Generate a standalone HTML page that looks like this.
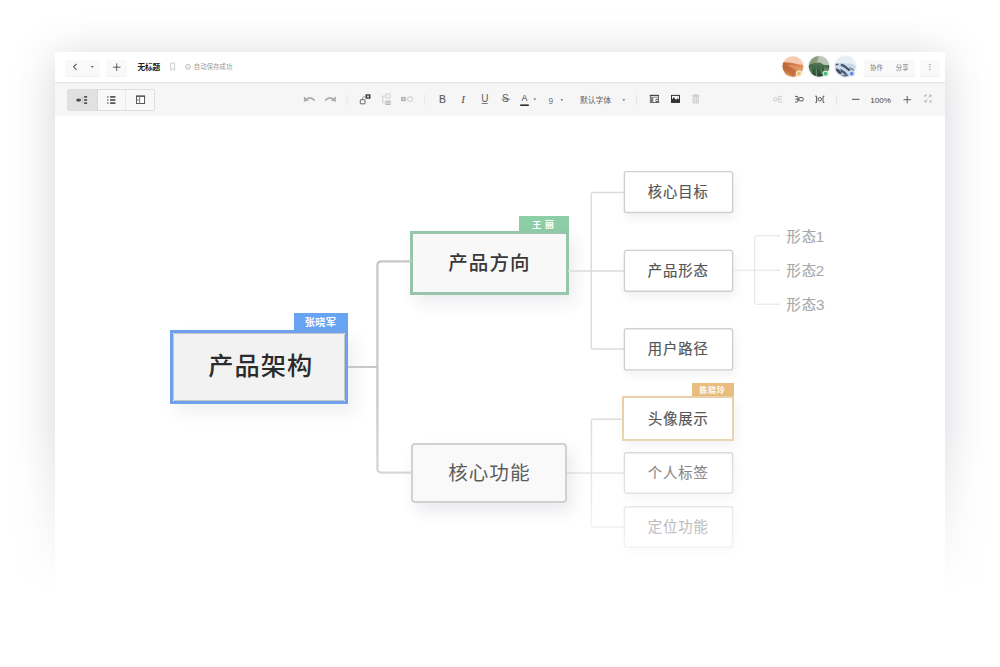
<!DOCTYPE html>
<html lang="zh"><head><meta charset="utf-8"><title>Mind map</title>
<style>
html,body{margin:0;padding:0;width:1000px;height:667px;overflow:hidden;}
body{width:1000px;height:667px;overflow:hidden;background:#fff;position:relative;font-family:"Liberation Sans",sans-serif;}
#win{position:absolute;left:55px;top:52px;width:890px;height:590px;background:#fff;box-shadow:0 5px 40px rgba(60,65,85,0.22);}
#titlebar{position:absolute;left:0;top:0;width:890px;height:30px;background:#fff;}
#toolbar{position:absolute;left:0;top:30px;width:890px;height:34px;background:linear-gradient(to bottom,#e8e8e8 0,#e8e8e8 1px,#efefef 1px,#efefef 2px,#f6f6f6 2px,#f6f6f6 34px);}
.boxes div{position:absolute;}
svg.ink{position:absolute;left:0;top:0;}
svg.ink text{font-family:"Liberation Sans","Noto Sans CJK SC",sans-serif;}
.sr{position:absolute;width:1px;height:1px;overflow:hidden;font-size:1px;line-height:1px;color:transparent;white-space:nowrap;pointer-events:none;}
#fade{position:absolute;left:0;top:420px;width:1000px;height:247px;background:linear-gradient(to bottom,rgba(255,255,255,0) 0,rgba(255,255,255,1) 170px);}
</style></head><body>
<div id="win"><div id="titlebar"></div><div id="toolbar"></div></div>
<div class="boxes">
<div style="left:64.7px;top:59.5px;width:35.1px;height:16px;background:#f9f9f9;border-radius:2px;box-shadow:0 1px 0 #f0f0f0;"></div>
<div style="left:105.9px;top:59.5px;width:20.9px;height:16px;background:#f9f9f9;border-radius:2px;box-shadow:0 1px 0 #f0f0f0;"></div>
<div style="left:863.6px;top:59.5px;width:51.3px;height:16px;background:#f9f9f9;border-radius:2px;box-shadow:0 1px 0 #f0f0f0;"></div>
<div style="left:920px;top:59.5px;width:19.6px;height:16px;background:#f9f9f9;border-radius:2px;box-shadow:0 1px 0 #f0f0f0;"></div>
<div style="left:67px;top:88.8px;width:88.3px;height:21.8px;background:#f8f8f8;border:1px solid #dedede;border-radius:2px;box-sizing:border-box;"></div>
<div style="left:67.5px;top:89.3px;width:29.2px;height:20.8px;background:#e1e1e1;border-right:1px solid #d8d8d8;border-radius:1.500px 0 0 1.500px;"></div>
<div style="left:125px;top:89.8px;width:1px;height:20.3px;background:#e8e8e8;"></div>
<div style="left:293.6px;top:313px;width:54.4px;height:18px;background:#69a4f4;"></div>
<div style="left:170px;top:330.2px;width:178px;height:73.6px;background:#f2f2f2;border:3px solid #6ea1ea;box-sizing:border-box;box-shadow:7px 9px 16px rgba(40,50,80,0.075);"><div style="position:absolute;left:0;top:0;right:0;bottom:0;border:1px solid #c2c7cd;border-radius:2px;"></div></div>
<div style="left:519.1px;top:215.8px;width:49.7px;height:16.2px;background:#8dcea6;"></div>
<div style="left:410px;top:231.3px;width:158.8px;height:63.7px;background:#f8f8f8;border:3px solid #96c5aa;box-sizing:border-box;box-shadow:6px 8px 15px rgba(40,50,80,0.09);"></div>
<div style="left:624px;top:171.2px;width:109px;height:41.7px;background:#fff;border-radius:2.500px;box-shadow:2px 5px 10px rgba(40,50,80,0.07);"></div>
<div style="left:624px;top:250px;width:109px;height:41.7px;background:#fff;border-radius:2.500px;box-shadow:2px 5px 10px rgba(40,50,80,0.07);"></div>
<div style="left:624px;top:328.3px;width:109px;height:42px;background:#fff;border-radius:2.500px;box-shadow:2px 5px 10px rgba(40,50,80,0.07);"></div>
<div style="left:691.5px;top:383.1px;width:42.6px;height:14.1px;background:#e9bd7e;"></div>
<div style="left:622.4px;top:396.4px;width:111.7px;height:44.8px;background:#fff;border:2px solid #ead0a8;box-sizing:border-box;box-shadow:2px 5px 10px rgba(40,50,80,0.07);"></div>
<div style="left:624px;top:452.4px;width:109px;height:41.3px;background:#fff;border-radius:2.500px;box-shadow:2px 5px 10px rgba(40,50,80,0.07);"></div>
<div style="left:624px;top:506.3px;width:109px;height:41.4px;background:#fff;border-radius:2.500px;box-shadow:2px 5px 10px rgba(40,50,80,0.07);"></div>
</div>
<svg class="ink" width="1000" height="667" viewBox="0 0 1000 667"><defs>
<filter id="bl" x="-20%" y="-20%" width="140%" height="140%"><feGaussianBlur stdDeviation="0.7"/></filter>
<clipPath id="c1"><circle cx="792.9" cy="66.6" r="10.4"/></clipPath>
<clipPath id="c2"><circle cx="819" cy="66.4" r="10.3"/></clipPath>
<clipPath id="c3"><circle cx="845.4" cy="66.4" r="10.3"/></clipPath>
<linearGradient id="d1" x1="0" y1="0" x2="1" y2="0.6"><stop offset="0" stop-color="#b65d33"/><stop offset="0.45" stop-color="#d27b4a"/><stop offset="0.75" stop-color="#e39463"/><stop offset="1" stop-color="#d98552"/></linearGradient>
<linearGradient id="d2" x1="0" y1="0" x2="0" y2="1"><stop offset="0" stop-color="#527a58"/><stop offset="0.5" stop-color="#33583c"/><stop offset="1" stop-color="#1d382a"/></linearGradient>
</defs>
<path d="M76.6 63.8L73.6 66.8L76.6 69.8" fill="none" stroke="#5a5a5a" stroke-width="1.1"/>
<path d="M91 65.9h2.5l-1.25 1.9z" fill="#444"/>
<path d="M112.9 67.2h7.6M116.7 63.4v7.6" fill="none" stroke="#4a4a4a" stroke-width="0.9"/>
<text x="137.58" y="69.83" font-size="7.7" font-weight="bold" fill="#1c1c1c" letter-spacing="-0.24">无标题</text>
<path d="M170.7 63h3.9v7.2l-1.95-1.5l-1.95 1.500z" fill="none" stroke="#bdbdbd" stroke-width="0.8"/>
<circle cx="188" cy="66.8" r="2.5" fill="none" stroke="#a8a8a8" stroke-width="0.7"/><path d="M186.6 66.9l0.9 0.9l1.700-1.900" fill="none" stroke="#a8a8a8" stroke-width="0.7"/>
<text x="193.82" y="69.27" font-size="6.3" fill="#989898" letter-spacing="0.15">自动保存成功</text>
<text x="870.12" y="69.79" font-size="6.3" fill="#777">协作</text>
<text x="895.75" y="69.81" font-size="6.3" fill="#777" letter-spacing="0.16">分享</text>
<rect x="929.3" y="64.05" width="1.1" height="1.1" fill="#8a8a8a"/>
<rect x="929.3" y="66.55" width="1.1" height="1.1" fill="#8a8a8a"/>
<rect x="929.3" y="69.05" width="1.1" height="1.1" fill="#8a8a8a"/>
<circle cx="792.900" cy="66.900" r="11.600" fill="#f3c4ae" opacity="0.16"/><circle cx="819" cy="66.700" r="11.500" fill="#93a794" opacity="0.13"/><circle cx="845.400" cy="66.700" r="11.600" fill="#b4c6e0" opacity="0.16"/>
<g clip-path="url(#c1)"><g filter="url(#bl)"><rect x="780" y="54" width="26" height="26" fill="#f5cbb5"/><path d="M780 62.600Q786 61.500 792 63Q798 64.400 806 65.500V80H780z" fill="url(#d1)"/><path d="M782 64.500Q790 66 797 72L793 78Q788 70 781 68z" fill="#b9643a" opacity="0.7"/><path d="M790 64.500Q798 66.500 804 70.500L803 73Q797 68 789 66z" fill="#eaa374" opacity="0.7"/><path d="M783 74Q790 74 796 78H784z" fill="#e39a68" opacity="0.7"/></g></g>
<g clip-path="url(#c2)"><g filter="url(#bl)"><rect x="806" y="54" width="26" height="26" fill="#adb8a5"/><path d="M806 54h13l-3 10l-10 2z" fill="#8c9b7f"/><path d="M819 55l11 3v9l-12-4z" fill="#bcc5b6"/><path d="M806 66.500Q811 62.500 816 63Q820 61.500 823 64.500Q827 66 832 64V80H806z" fill="url(#d2)"/><path d="M816 66l1.500 10h-2z" fill="#7fa486" opacity="0.7"/><path d="M820 65l3 8l-2 1z" fill="#6f9a78" opacity="0.6"/><path d="M824 67l4 1v4l-4-2z" fill="#7a9c7c" opacity="0.6"/><path d="M808 68l4-1l1 6l-4 1z" fill="#5d8463" opacity="0.6"/></g></g>
<g clip-path="url(#c3)"><g filter="url(#bl)"><rect x="833" y="54" width="26" height="26" fill="#e7eef6"/><path d="M834 65Q840 61.500 846 63.500Q851 62.500 857 66.500V79H834z" fill="#cbd8e7"/><path d="M835 63.600l3.200 0.200l0.300 1.300l-3.500 0.300z" fill="#4c5c74"/><path d="M841 63.800l3 0.800l6.500 5l-1.200 1.800l-5.500-4.200l-3.300-1.500z" fill="#44556d"/><path d="M835.300 68.300l3.500 1l3.200 3.700l-1.500 1.500l-5.200-3.200z" fill="#3f5066"/><path d="M840.500 68.800l4 2.500l3 3l-2 1l-5-4z" fill="#4a5a72"/><path d="M849 67l3.500 1.200l2 2.600l-2.200 0.200z" fill="#7b8aa0"/><path d="M841.500 75l6.500-0.600l0.600 2.200l-5.500 1.200z" fill="#66748a"/></g></g>
<circle cx="798.9" cy="73.600" r="3.1" fill="#fdecca"/><circle cx="798.9" cy="73.600" r="1.85" fill="#e9bc64"/>
<circle cx="825.6" cy="73.600" r="3.1" fill="#c6f0d6"/><circle cx="825.6" cy="73.600" r="1.85" fill="#55b47d"/>
<circle cx="851.7" cy="73.600" r="3.1" fill="#d5e0fa"/><circle cx="851.7" cy="73.600" r="1.85" fill="#6589e1"/>
<g fill="#484848"><rect x="76.500" y="98.700" width="4.300" height="2.800" rx="0.4"/><rect x="84.100" y="96.100" width="3" height="1.600"/><rect x="84.100" y="99.200" width="3" height="1.600"/><rect x="84.100" y="102.300" width="3" height="1.600"/><rect x="82.400" y="96.500" width="0.5" height="7" fill="#aaa"/></g>
<g fill="#484848"><rect x="107" y="96.100" width="1.600" height="1.600" fill="#8a8a8a"/><rect x="107" y="99.200" width="1.600" height="1.600" fill="#8a8a8a"/><rect x="107" y="102.300" width="1.600" height="1.600" fill="#8a8a8a"/><rect x="110.100" y="96.100" width="5.300" height="1.600"/><rect x="110.100" y="99.200" width="5.300" height="1.600"/><rect x="110.100" y="102.300" width="5.300" height="1.600"/></g>
<rect x="136.500" y="96.100" width="8.100" height="7.400" fill="#fdfdfd" stroke="#484848" stroke-width="0.9"/><rect x="136" y="95.600" width="9.100" height="1.100" fill="#484848"/><path d="M139.600 96.500v7M136.500 99.900h3.100" fill="none" stroke="#6e6e6e" stroke-width="0.85"/>
<g fill="none" stroke="#adadad" stroke-width="1.700"><path d="M306 100Q310 95.400 314.600 100.600"/><path d="M333.800 100Q329.800 95.400 325.200 100.600"/></g><path d="M303.900 96.200v5.500l5-1.200z" fill="#adadad"/><path d="M335.900 96.200v5.500l-5-1.200z" fill="#adadad"/>
<rect x="346.5" y="94.500" width="1" height="10.500" fill="#e6e6e6"/>
<rect x="423.9" y="94.500" width="1" height="10.500" fill="#e6e6e6"/>
<rect x="636" y="94.500" width="1" height="10.500" fill="#e6e6e6"/>
<rect x="836.1" y="94.500" width="1" height="10.500" fill="#e6e6e6"/>
<g><rect x="365.500" y="94.300" width="5" height="4.400" fill="#3c3c3c"/><rect x="367.100" y="95.600" width="1.800" height="1.800" fill="#e8e8e8"/><rect x="360.300" y="99.700" width="4.700" height="4.100" rx="0.5" fill="#fafafa" stroke="#484848" stroke-width="0.85"/><path d="M362.500 99.200v-1.200q0-1.200 1.200-1.200h1.800" fill="none" stroke="#8c8c8c" stroke-width="0.8"/></g>
<g fill="none" stroke-width="1"><rect x="386" y="94" width="4" height="4" stroke="#d2d2d2"/><rect x="386" y="101.100" width="4" height="3.300" stroke="#b2b2b2"/><path d="M385.500 96h-2.800v6.600h2.800" stroke="#c8c8c8" stroke-width="0.9"/></g><rect x="387" y="102" width="2" height="1.500" fill="#c4c4c4"/>
<rect x="401" y="96.900" width="4.800" height="4.300" fill="#b4b4b4"/><rect x="402.500" y="98.300" width="1.800" height="1.500" fill="#e6e6e6"/><rect x="407.900" y="97" width="4.400" height="4.200" rx="0.2" fill="none" stroke="#c6c6c6" stroke-width="0.8"/><rect x="405.800" y="98.800" width="2.100" height="0.500" fill="#ccc"/>
<text x="439.05" y="102.53" font-size="10.4" fill="#5c5c5c" stroke="#5c5c5c" stroke-width="0.15">B</text>
<text x="461.24" y="102.55" font-size="11" font-style="italic" fill="#5c5c5c" stroke="#5c5c5c" stroke-width="0.16" style="font-family:'Liberation Serif',serif;">I</text>
<text x="481.13" y="102.39" font-size="10" fill="#5c5c5c">U</text><rect x="481.700" y="103.200" width="6" height="0.8" fill="#5c5c5c"/>
<text x="502.04" y="102.46" font-size="10.2" fill="#5c5c5c">S</text><rect x="501.700" y="98.700" width="8.200" height="0.8" fill="#5c5c5c"/>
<text x="521.58" y="101.43" font-size="8.8" fill="#3a3a3a">A</text><rect x="520.200" y="104.400" width="8.600" height="1.600" fill="#2e2e2e"/>
<path d="M533.500 98.500h2.600l-1.300 1.700z" fill="#5a5a5a"/>
<text x="548.41" y="103.69" font-size="8.4" fill="#7a7a7a">9</text>
<path d="M560.600 99.300h2.600l-1.300 1.700z" fill="#5a5a5a"/>
<text x="579.93" y="103.33" font-size="7.9" fill="#646464" letter-spacing="-0.12">默认字体</text>
<path d="M622.500 99.300h2.600l-1.300 1.700z" fill="#5a5a5a"/>
<rect x="650.300" y="95.300" width="8.200" height="7.200" fill="#fcfcfc" stroke="#4a4a4a" stroke-width="0.8"/><rect x="649.900" y="94.900" width="9" height="1.200" fill="#444"/><rect x="650.300" y="96.900" width="8.200" height="0.6" fill="#555"/><rect x="650.300" y="97.500" width="3" height="5" fill="#7c7c7c"/><circle cx="657.100" cy="100.400" r="1.300" fill="#fcfcfc" stroke="#444" stroke-width="0.9"/><path d="M658.100 101.500l1.100 1.300" stroke="#444" stroke-width="0.8"/>
<rect x="671.500" y="95.400" width="8" height="7" fill="#fcfcfc" stroke="#333" stroke-width="1"/><path d="M671.500 102.400v-2.300l2.300-2.900l2.200 2.500l1.800-1.400l1.700 1.800v2.300z" fill="#333"/><rect x="677" y="96.700" width="1.200" height="0.6" fill="#888"/>
<g fill="none" stroke="#c8c8c8" stroke-width="0.9"><path d="M692 95.600h7.400M694.400 95.400v-0.900h2.600v0.900"/><rect x="693.100" y="96.700" width="5.200" height="6.200" fill="#ececec"/><path d="M694.900 97.200v5.200M696.600 97.200v5.200" stroke-width="0.7"/></g>
<g fill="none" stroke="#cacaca" stroke-width="0.9"><circle cx="775.300" cy="99.200" r="1.700"/><path d="M782.200 96.400h-2.800q-1 0-1 1v3.600q0 1 1 1h2.800M778.400 99.200h3.400"/></g>
<g fill="none" stroke="#4a4a4a" stroke-width="0.9"><rect x="799" y="97.500" width="4.200" height="3.400" rx="1"/><path d="M795 96.400h2q1 0 1 1v3.600q0 1 -1 1h-2M795.400 99.200h3.600"/></g>
<g fill="none" stroke="#4a4a4a" stroke-width="0.9"><circle cx="819.800" cy="99.200" r="1.700"/><path d="M815.200 96.200h1.400v6.200h-1.400M824.400 96.200h-1.400v6.200h1.400"/></g>
<rect x="852" y="98.800" width="7.500" height="1" fill="#505050"/>
<text x="870.28" y="102.69" font-size="8.1" fill="#444" letter-spacing="0.03">100%</text>
<path d="M903.500 99.700h7.400M907.200 96v7.400" fill="none" stroke="#505050" stroke-width="0.9"/>
<g fill="none" stroke="#a2a2a2" stroke-width="0.9"><path d="M924.900 96.900v-1.800h1.800M931 100.100v1.800h-1.800M928.900 97.500l2-2.300M929.400 95.100h1.600v1.600M927.100 99.500l-2 2.300M926.600 101.900h-1.600v-1.600"/></g>
<path d="M568 270.900H624M624 192.400H593.300q-2 0-2 2V347q0 2 2 2H624" fill="none" stroke="#dcdcdc" stroke-width="1.500"/>
<path d="M567 473H624M623 419.200H593.400q-2 0-2 2V525q0 2 2 2H624" fill="none" stroke="#dcdcdc" stroke-width="1.500"/>
<path d="M733 270.300H778.500M778.500 235.700H756.200q-1.500 0-1.500 1.500V302.800q0 1.500 1.500 1.500H778.500" fill="none" stroke="#e4e4e4" stroke-width="1.100"/>
<circle cx="778.500" cy="235.7" r="0.9" fill="#dedede"/>
<circle cx="778.500" cy="270.3" r="0.9" fill="#dedede"/>
<circle cx="778.500" cy="304.3" r="0.9" fill="#dedede"/>
<text x="304.72" y="325.99" font-size="10.2" font-weight="bold" fill="#fff" letter-spacing="0.28">张晓军</text>
<text x="208.14" y="375.49" font-size="25.2" font-weight="500" fill="#2b2b2b" letter-spacing="1.07">产品架构</text>
<text x="532.18" y="227.72" font-size="9.2" font-weight="bold" fill="#fff">王</text>
<text x="544.79" y="227.57" font-size="9.2" font-weight="bold" fill="#fff">丽</text>
<text x="448.31" y="269.71" font-size="19.5" font-weight="500" fill="#383838" letter-spacing="1.04">产品方向</text>
<rect x="624.400" y="171.6" width="108.200" height="40.9" rx="2" fill="none" stroke="#d0d0d0" stroke-width="1.400"/>
<text x="647.73" y="197.01" font-size="14.3" fill="#555" stroke="#555" stroke-width="0.2" letter-spacing="0.96">核心目标</text>
<rect x="624.400" y="250.4" width="108.200" height="40.9" rx="2" fill="none" stroke="#d0d0d0" stroke-width="1.400"/>
<text x="647.7" y="275.76" font-size="14.3" fill="#555" stroke="#555" stroke-width="0.2" letter-spacing="0.97">产品形态</text>
<rect x="624.400" y="328.7" width="108.200" height="41.2" rx="2" fill="none" stroke="#d0d0d0" stroke-width="1.400"/>
<text x="647.74" y="354.23" font-size="14.3" fill="#555" stroke="#555" stroke-width="0.2" letter-spacing="0.96">用户路径</text>
<text x="699.48" y="393.19" font-size="7.8" font-weight="bold" fill="#fff" letter-spacing="0.88">陈晓玲</text>
<text x="648" y="423.72" font-size="14.3" fill="#555" stroke="#555" stroke-width="0.2" letter-spacing="0.88">头像展示</text>
<rect x="624.400" y="452.8" width="108.200" height="40.5" rx="2" fill="none" stroke="#d0d0d0" stroke-width="1.400"/>
<text x="647.7" y="478.03" font-size="14.3" fill="#555" stroke="#555" stroke-width="0.2" letter-spacing="0.94">个人标签</text>
<rect x="624.400" y="506.7" width="108.200" height="40.6" rx="2" fill="none" stroke="#d0d0d0" stroke-width="1.400"/>
<text x="647.69" y="531.96" font-size="14.3" fill="#555" stroke="#555" stroke-width="0.2" letter-spacing="0.95">定位功能</text>
<text x="786.47" y="242.22" font-size="14.3" fill="#a8a8a8" stroke="#a8a8a8" stroke-width="0.17" letter-spacing="0.93">形态</text>
<text x="815.8" y="242.2" font-size="15.2" fill="#a8a8a8">1</text>
<text x="786.47" y="275.92" font-size="14.3" fill="#a8a8a8" stroke="#a8a8a8" stroke-width="0.17" letter-spacing="0.93">形态</text>
<text x="815.84" y="276.01" font-size="15.2" fill="#a8a8a8">2</text>
<text x="786.47" y="309.72" font-size="14.3" fill="#a8a8a8" stroke="#a8a8a8" stroke-width="0.17" letter-spacing="0.93">形态</text>
<text x="816.02" y="309.73" font-size="15.2" fill="#a8a8a8">3</text>
</svg>
<div id="fade"></div>
<div class="boxes">
<div style="left:411.4px;top:443px;width:155.6px;height:60px;background:#f9f9f9;border:2px solid #cfd2d3;border-radius:4px;box-sizing:border-box;box-shadow:5px 8px 15px rgba(40,50,80,0.10);"></div>
</div>
<svg class="ink" width="1000" height="667" viewBox="0 0 1000 667">
<defs><linearGradient id="lg" gradientUnits="userSpaceOnUse" x1="0" y1="400" x2="0" y2="474"><stop offset="0" stop-color="#c5c7c9"/><stop offset="1" stop-color="#d4d7d8"/></linearGradient></defs><path d="M348 367H377.400M412 261.400H381.400q-4 0-4 4V468.600q0 4 4 4H412" fill="none" stroke="url(#lg)" stroke-width="2.200"/>
<text x="448.15" y="480.48" font-size="19.6" fill="#5c5c5c" letter-spacing="0.99">核心功能</text>
</svg>
<div id="labels">
<span class="sr" style="left:138px;top:62px">无标题</span>
<span class="sr" style="left:195px;top:63px">自动保存成功</span>
<span class="sr" style="left:870px;top:64px">协作</span>
<span class="sr" style="left:896px;top:64px">分享</span>
<span class="sr" style="left:440px;top:95px">B</span>
<span class="sr" style="left:461px;top:95px">I</span>
<span class="sr" style="left:482px;top:95px">U</span>
<span class="sr" style="left:502px;top:95px">S</span>
<span class="sr" style="left:521px;top:95px">A</span>
<span class="sr" style="left:549px;top:97px">9</span>
<span class="sr" style="left:580px;top:96px">默认字体</span>
<span class="sr" style="left:871px;top:96px">100%</span>
<span class="sr" style="left:305px;top:317px">张晓军</span>
<span class="sr" style="left:209px;top:354px">产品架构</span>
<span class="sr" style="left:532px;top:220px">王 丽</span>
<span class="sr" style="left:449px;top:253px">产品方向</span>
<span class="sr" style="left:449px;top:464px">核心功能</span>
<span class="sr" style="left:648px;top:185px">核心目标</span>
<span class="sr" style="left:648px;top:264px">产品形态</span>
<span class="sr" style="left:648px;top:342px">用户路径</span>
<span class="sr" style="left:700px;top:386px">陈晓玲</span>
<span class="sr" style="left:649px;top:411px">头像展示</span>
<span class="sr" style="left:648px;top:466px">个人标签</span>
<span class="sr" style="left:648px;top:520px">定位功能</span>
<span class="sr" style="left:787px;top:230px">形态1</span>
<span class="sr" style="left:787px;top:264px">形态2</span>
<span class="sr" style="left:787px;top:298px">形态3</span>
</div>
</body></html>
